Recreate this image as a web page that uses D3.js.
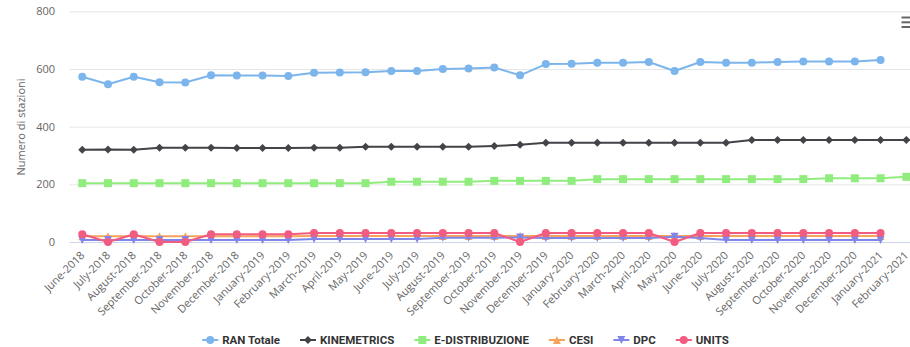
<!DOCTYPE html>
<html>
<head>
<meta charset="utf-8">
<script src="https://cdn.jsdelivr.net/npm/d3@7"></script>
<style>
  html, body { margin: 0; padding: 0; background: #ffffff; }
  svg { display: block; font-family: "Open Sans", "Noto Sans", Arial, sans-serif; }
</style>
</head>
<body>
<svg id="chart" width="910" height="347"></svg>
<script>
// Monthly station counts per network
const categories = [
  "June-2018", "July-2018", "August-2018", "September-2018", "October-2018",
  "November-2018", "December-2018", "January-2019", "February-2019", "March-2019",
  "April-2019", "May-2019", "June-2019", "July-2019", "August-2019",
  "September-2019", "October-2019", "November-2019", "December-2019", "January-2020",
  "February-2020", "March-2020", "April-2020", "May-2020", "June-2020",
  "July-2020", "August-2020", "September-2020", "October-2020", "November-2020",
  "December-2020", "January-2021", "February-2021"
];

const ranTotale = [573, 547, 573, 554, 553, 578, 577, 577, 576, 587, 588, 589, 593, 593, 600, 602,
  605, 578, 617, 618, 622, 622, 624, 593, 624, 622, 622, 624, 626, 626, 626, 631, null];
const kinemetrics = [320, 321, 320, 327, 327, 327, 326, 326, 326, 327, 327, 330, 330, 330, 330, 330,
  333, 337, 344, 344, 344, 344, 344, 344, 344, 344, 354, 354, 354, 354, 354, 354, 354];
const eDistribuzione = [204, 204, 204, 204, 204, 204, 204, 204, 204, 204, 204, 204, 209, 209, 209, 209,
  212, 212, 212, 212, 218, 218, 218, 218, 218, 218, 218, 218, 218, 221, 221, 221, 226];
const cesi = [20, 20, 20, 20, 20, 20, 20, 20, 20, 21, 21, 21, 21, 21, 21, 21,
  21, 21, 21, 21, 21, 21, 21, 21, 21, 21, 21, 21, 21, 21, 21, 21, null];
const dpc = [7, 7, 7, 7, 7, 7, 7, 7, 7, 10, 10, 10, 10, 10, 15, 15,
  15, 16, 14, 14, 14, 14, 14, 18, 14, 7, 7, 7, 7, 7, 7, 7, null];
const units = [27, 0, 27, 0, 0, 27, 27, 27, 27, 31, 31, 31, 31, 31, 31, 31,
  31, 0, 31, 31, 31, 31, 31, 0, 31, 31, 31, 31, 31, 31, 31, 31, null];

const yTicks = [0, 200, 400, 600, 800];
const yTitle = "Numero di stazioni";

const series = [
  { name: "RAN Totale", data: ranTotale, color: "#7cb5ec", symbol: "circle" },
  { name: "KINEMETRICS", data: kinemetrics, color: "#434348", symbol: "diamond" },
  { name: "E-DISTRIBUZIONE", data: eDistribuzione, color: "#90ed7d", symbol: "square" },
  { name: "CESI", data: cesi, color: "#f7a35c", symbol: "triangle" },
  { name: "DPC", data: dpc, color: "#8085e9", symbol: "triangle-down" },
  { name: "UNITS", data: units, color: "#f15c80", symbol: "circle" }
];

// Marker shapes, radius r, centred on (0,0)
function markerPath(type, r) {
  switch (type) {
    case "circle": {
      const p = d3.path();
      p.arc(0, 0, r, 0, 2 * Math.PI);
      return p.toString();
    }
    case "diamond":
      return `M0,${-r}L${r},0L0,${r}L${-r},0Z`;
    case "square":
      return `M${-r},${-r}H${r}V${r}H${-r}Z`;
    case "triangle":
      return `M0,${-r}L${r},${r}L${-r},${r}Z`;
    case "triangle-down":
      return `M${-r},${-r}L${r},${-r}L0,${r}Z`;
  }
}

const svg = d3.select("#chart");
const plot = { left: 69.4, right: 919.2, top: 11.3, bottom: 242 };

const x = d3.scaleBand().domain(categories).range([plot.left, plot.right]).padding(0);
const cx = c => x(c) + x.bandwidth() / 2;
const y = d3.scaleLinear().domain([0, 800]).range([plot.bottom, plot.top]);

// Horizontal grid lines
const yAxis = d3.axisLeft(y).tickValues(yTicks).tickSize(0).tickPadding(0);
const yG = svg.append("g").attr("transform", `translate(${plot.left},0)`).call(yAxis);
yG.select(".domain").remove();
yG.selectAll(".tick line")
  .attr("x1", 0).attr("x2", plot.right - plot.left)
  .attr("stroke", d => d === 0 ? "none" : "#e6e6e6").attr("stroke-width", 1);
yG.selectAll(".tick text")
  .attr("x", 55 - plot.left).attr("dy", "0.32em")
  .attr("text-anchor", "end")
  .style("font-size", "11px").style("font-family", "'Open Sans', Arial, sans-serif")
  .attr("fill", "#666666");

// Y axis title
svg.append("text")
  .attr("transform", `translate(25,127) rotate(-90)`)
  .attr("text-anchor", "middle")
  .style("font-size", "11px")
  .attr("fill", "#666666")
  .text(yTitle);

// X axis line and rotated category labels
const xAxis = d3.axisBottom(x).tickSize(0).tickPadding(0);
const xG = svg.append("g").attr("transform", `translate(0,${plot.bottom})`).call(xAxis);
xG.select(".domain").attr("stroke", "#ccd6eb").attr("d", `M${plot.left},0.5H${plot.right}`);
xG.selectAll(".tick text")
  .attr("text-anchor", "end")
  .attr("y", 0).attr("dy", 0)
  .attr("transform", "translate(3,14) rotate(-45)")
  .style("font-size", "11px").style("font-family", "'Open Sans', Arial, sans-serif")
  .attr("fill", "#666666");

// Series lines and markers
const line = d3.line()
  .defined(d => d.v !== null)
  .x(d => cx(d.c))
  .y(d => y(d.v));

series.forEach(s => {
  const pts = s.data.map((v, i) => ({ c: categories[i], v }));
  const g = svg.append("g");
  g.append("path")
    .datum(pts)
    .attr("d", line)
    .attr("fill", "none")
    .attr("stroke", s.color)
    .attr("stroke-width", 2)
    .attr("stroke-linejoin", "round")
    .attr("stroke-linecap", "round");
  g.selectAll("path.marker")
    .data(pts.filter(d => d.v !== null))
    .join("path")
    .attr("class", "marker")
    .attr("d", markerPath(s.symbol, 4))
    .attr("transform", d => `translate(${cx(d.c)},${y(d.v)})`)
    .attr("fill", s.color);
});

// Legend
const legend = svg.append("g");
let cursor = 0;
series.forEach(s => {
  const it = legend.append("g");
  it.append("path").attr("d", "M0,0H16").attr("stroke", s.color).attr("stroke-width", 2);
  it.append("path").attr("d", markerPath(s.symbol, 4)).attr("transform", "translate(8,0)").attr("fill", s.color);
  const t = it.append("text")
    .attr("x", 20).attr("dy", "0.35em")
    .style("font-size", "11.5px").style("font-weight", "bold")
    .style("font-family", "Roboto, Arial, sans-serif")
    .attr("fill", "#333333")
    .text(s.name);
  const w = 20 + t.node().getComputedTextLength();
  it.attr("transform", `translate(${cursor},0)`);
  cursor += w + 20;
});
const legendWidth = cursor - 20;
legend.attr("transform", `translate(${465.5 - legendWidth / 2},340)`);

// Context menu button
const menu = svg.append("g").attr("stroke", "#666666").attr("stroke-width", 2);
[17.5, 22.3, 27].forEach(yy => {
  menu.append("line").attr("x1", 901.5).attr("x2", 913).attr("y1", yy).attr("y2", yy);
});
</script>
</body>
</html>
